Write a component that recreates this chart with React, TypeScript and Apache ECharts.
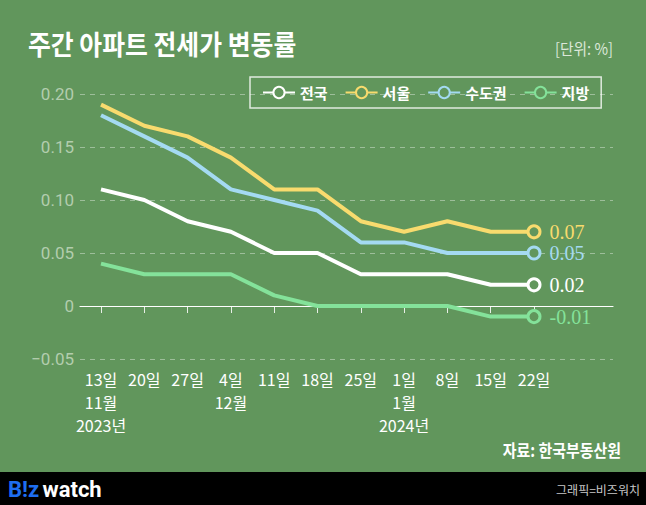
import React, { useEffect, useRef } from "react";
import * as echarts from "echarts";

const days = ["13일", "20일", "27일", "4일", "11일", "18일", "25일", "1일", "8일", "15일", "22일"];
const months = ["11월", "", "", "12월", "", "", "", "1월", "", "", ""];
const years = ["2023년", "", "", "", "", "", "", "2024년", "", "", ""];

const seriesNames = ["전국", "서울", "수도권", "지방"];
const national = [0.11, 0.10, 0.08, 0.07, 0.05, 0.05, 0.03, 0.03, 0.03, 0.02, 0.02];
const seoul = [0.19, 0.17, 0.16, 0.14, 0.11, 0.11, 0.08, 0.07, 0.08, 0.07, 0.07];
const capital = [0.18, 0.16, 0.14, 0.11, 0.10, 0.09, 0.06, 0.06, 0.05, 0.05, 0.05];
const regional = [0.04, 0.03, 0.03, 0.03, 0.01, 0.00, 0.00, 0.00, 0.00, -0.01, -0.01];
const yTicks = [-0.05, 0, 0.05, 0.1, 0.15, 0.2];

const BG = "#61965C";
const colors = ["#FFFFFF", "#F8DB6E", "#A4DAF2", "#84E29A"];
const FONT = "'Noto Sans CJK KR', 'Noto Sans', sans-serif";

export default function App() {
  const ref = useRef<HTMLDivElement>(null);
  useEffect(() => {
    if (!ref.current) return;
    const chart = echarts.init(ref.current, null, { renderer: "svg" });
    const cats = days.map((d, i) => [d, months[i], years[i]].filter((s) => s).join("\n"));
    const all = [national, seoul, capital, regional];
    const last = days.length - 1;
    const fmtEnd = (v: number) => (v < 0 ? "-" : "") + Math.abs(v).toFixed(2);

    const series = all.map((arr, si) => ({
      name: seriesNames[si],
      type: "line",
      xAxisIndex: 1,
      yAxisIndex: 1,
      z: 10 - si,
      symbol: "circle",
      symbolSize: 12,
      showSymbol: true,
      lineStyle: { color: colors[si], width: 4 },
      itemStyle: { color: BG, borderColor: colors[si], borderWidth: 3 },
      data: arr.map((v, i) =>
        i === last
          ? {
              value: v,
              label: {
                show: true,
                position: "right",
                distance: 8,
                formatter: () => fmtEnd(v),
                color: colors[si],
                fontFamily: "'Liberation Serif', 'DejaVu Serif', serif",
                fontSize: 20,
                lineHeight: 18,
              },
            }
          : { value: v, symbol: "none" }
      ),
    }));

    const option: any = {
      animation: false,
      backgroundColor: BG,
      textStyle: { fontFamily: FONT },
      grid: [
        { left: 80, right: 33, top: 94, bottom: 146 },
        { left: 101, right: 112, top: 94, bottom: 146 },
      ],
      legend: {
        left: 250,
        top: 77,
        padding: [8, 12],
        borderColor: "rgba(255,255,255,0.8)",
        borderWidth: 1.5,
        itemWidth: 32,
        itemHeight: 14,
        itemGap: 17,
        data: seriesNames,
        textStyle: { color: "#fff", fontSize: 15, fontWeight: "bold", fontFamily: FONT },
      },
      xAxis: [
        {
          gridIndex: 0,
          type: "value",
          min: 0,
          max: 1,
          axisLine: { show: true, onZero: true, lineStyle: { color: "#fff", width: 1.2 } },
          axisTick: { show: false },
          axisLabel: { show: false },
          splitLine: { show: false },
        },
        {
          gridIndex: 1,
          type: "category",
          boundaryGap: false,
          data: cats,
          axisLine: { show: false },
          axisTick: { show: true, alignWithLabel: true, length: 7, lineStyle: { color: "rgba(255,255,255,0.85)" } },
          axisLabel: {
            interval: 0,
            color: "#fff",
            fontSize: 16,
            lineHeight: 23,
            margin: 8,
            fontFamily: FONT,
          },
          splitLine: { show: false },
        },
      ],
      yAxis: [
        {
          gridIndex: 0,
          type: "value",
          min: yTicks[0],
          max: yTicks[yTicks.length - 1],
          interval: 0.05,
          axisLine: { show: false },
          axisTick: { show: false },
          axisLabel: {
            color: "#B3CDAE",
            fontSize: 17,
            margin: 6,
            fontFamily: "Roboto, 'Noto Sans', sans-serif",
            formatter: (v: number) => {
              const r = Math.round(v * 100) / 100;
              if (r === 0) return "0";
              return (r < 0 ? "−" : "") + Math.abs(r).toFixed(2);
            },
          },
          splitLine: { show: true, lineStyle: { color: "rgba(255,255,255,0.38)", type: [5, 5], width: 1 } },
        },
        {
          gridIndex: 1,
          type: "value",
          min: yTicks[0],
          max: yTicks[yTicks.length - 1],
          interval: 0.05,
          show: false,
          splitLine: { show: false },
        },
      ],
      graphic: [
        {
          type: "text",
          x: 28,
          y: 30,
          scaleX: 0.92,
          style: { text: "주간 아파트 전세가 변동률", fill: "#fff", fontSize: 27, fontWeight: "bold", fontFamily: FONT },
        },
        {
          type: "text",
          x: 613,
          y: 40,
          scaleX: 0.92,
          style: { text: "[단위: %]", fill: "#DCE8D9", fontSize: 16, fontFamily: FONT, textAlign: "right" },
        },
        {
          type: "text",
          x: 621,
          y: 441,
          scaleX: 0.88,
          style: { text: "자료: 한국부동산원", fill: "#fff", fontSize: 17, fontWeight: "bold", fontFamily: FONT, textAlign: "right" },
        },
        {
          type: "rect",
          shape: { x: 0, y: 472, width: 646, height: 33 },
          style: { fill: "#000" },
        },
        {
          type: "text",
          x: 8,
          y: 478,
          style: {
            text: "{b|B!z} {w|watch}",
            rich: {
              b: { fill: "#1E6EF0", fontSize: 22, fontWeight: "bold", fontFamily: "Roboto, sans-serif" },
              w: { fill: "#fff", fontSize: 22, fontWeight: "bold", fontFamily: "Roboto, sans-serif" },
            },
          },
        },
        {
          type: "text",
          x: 640,
          y: 483,
          style: { text: "그래픽=비즈워치", fill: "#C8C8C8", fontSize: 12, fontFamily: FONT, textAlign: "right" },
        },
      ],
      series,
    };
    chart.setOption(option);
    return () => chart.dispose();
  }, []);
  return <div ref={ref} style={{ position: "fixed", left: 0, top: 0, width: 646, height: 505 }} />;
}
